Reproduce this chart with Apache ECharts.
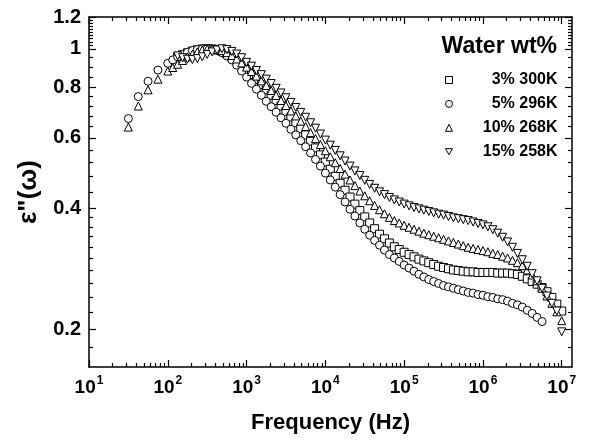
<!DOCTYPE html>
<html><head><meta charset="utf-8">
<script src="https://cdn.jsdelivr.net/npm/echarts@6/dist/echarts.min.js"></script>
<style>html,body{margin:0;padding:0;background:#fff}#c{width:592px;height:441px}</style>
</head><body><div id="c"></div>
<script>
// ---- data ----
const freqLow = [31.6, 42.2, 56.2, 75.0];
const freq = [
  100, 115.5, 133.4, 154.0, 177.8, 205.4, 237.1, 273.8, 316.2, 365.2, 421.7, 487.0, 562.3, 649.4, 749.9, 866.0,
  1000, 1155, 1334, 1540, 1778, 2054, 2371, 2738, 3162, 3652, 4217, 4870, 5623, 6494, 7499, 8660,
  1e4, 11550, 13340, 15400, 17780, 20540, 23710, 27380, 31620, 36520, 42170, 48700, 56230, 64940, 74990, 86600,
  1e5, 115500, 133400, 154000, 177800, 205400, 237100, 273800, 316200, 365200, 421700, 487000, 562300, 649400, 749900, 866000,
  1e6, 1155000, 1334000, 1540000, 1778000, 2054000, 2371000, 2738000, 3162000, 3652000, 4217000, 4870000, 5623000, 6494000, 7499000, 8660000,
  1e7
];
const seriesNames = ['3% 300K', '5% 296K', '10% 268K', '15% 258K'];
// 3% 300K : starts at freq[2]
const eps3 = [
  0.955, 0.966, 0.977, 0.987, 0.994, 0.999,
  1.0, 0.999, 0.994, 0.985, 0.972, 0.955, 0.935, 0.912,
  0.888, 0.862, 0.838, 0.814, 0.79, 0.766, 0.743, 0.72,
  0.698, 0.676, 0.654, 0.632, 0.61, 0.588, 0.566, 0.544,
  0.522, 0.501, 0.481, 0.462, 0.444, 0.427, 0.41, 0.395,
  0.381, 0.368, 0.356, 0.345, 0.336, 0.328, 0.321, 0.316,
  0.311, 0.307, 0.303, 0.299, 0.296, 0.293, 0.29, 0.287,
  0.285, 0.283, 0.281, 0.28, 0.279, 0.278, 0.278, 0.277,
  0.277, 0.277, 0.277, 0.276, 0.276, 0.276, 0.275, 0.274,
  0.271, 0.267, 0.263, 0.259, 0.254, 0.248, 0.24, 0.231,
  0.222
];
// 5% 296K : freqLow then freq[0..]
const eps5 = [
  0.67, 0.76, 0.83, 0.885,
  0.92, 0.938, 0.955, 0.968, 0.98, 0.99, 0.996, 0.999,
  1.0, 0.996, 0.99, 0.978, 0.96, 0.938, 0.91, 0.88,
  0.85, 0.82, 0.793, 0.766, 0.74, 0.717, 0.695, 0.673,
  0.652, 0.63, 0.61, 0.59, 0.57, 0.55, 0.53, 0.51,
  0.49, 0.471, 0.452, 0.433, 0.415, 0.398, 0.383, 0.368,
  0.355, 0.343, 0.333, 0.324, 0.315, 0.307, 0.301, 0.295,
  0.289, 0.284, 0.279, 0.274, 0.27, 0.266, 0.263, 0.26,
  0.257, 0.255, 0.253, 0.251, 0.249, 0.247, 0.246, 0.244,
  0.243, 0.241, 0.24, 0.238, 0.237, 0.235, 0.232, 0.23,
  0.227, 0.223, 0.219, 0.214, 0.209
];
// 10% 268K : freqLow then freq[0..]
const eps10 = [
  0.638, 0.72, 0.79, 0.84,
  0.88, 0.898, 0.915, 0.935, 0.955, 0.97, 0.983, 0.993,
  0.999, 1.0, 0.998, 0.99, 0.978, 0.962, 0.943, 0.922,
  0.90, 0.878, 0.855, 0.832, 0.81, 0.787, 0.765, 0.743,
  0.722, 0.70, 0.68, 0.66, 0.64, 0.618, 0.597, 0.577,
  0.557, 0.538, 0.52, 0.503, 0.487, 0.471, 0.456, 0.442,
  0.43, 0.418, 0.407, 0.397, 0.388, 0.38, 0.373, 0.368,
  0.363, 0.359, 0.355, 0.351, 0.347, 0.344, 0.341, 0.338,
  0.335, 0.332, 0.329, 0.326, 0.323, 0.32, 0.318, 0.316,
  0.314, 0.312, 0.309, 0.307, 0.304, 0.301, 0.297, 0.293,
  0.288, 0.281, 0.273, 0.264, 0.253, 0.242, 0.232, 0.221,
  0.21
];
// 15% 258K : starts at freq[2]
const eps15 = [
  0.96, 0.95, 0.942, 0.94, 0.945, 0.955,
  0.968, 0.982, 0.993, 1.0, 0.995, 0.985, 0.97, 0.95,
  0.925, 0.905, 0.883, 0.862, 0.84, 0.819, 0.797, 0.776,
  0.755, 0.735, 0.714, 0.694, 0.675, 0.654, 0.634, 0.613,
  0.592, 0.575, 0.558, 0.541, 0.525, 0.51, 0.496, 0.483,
  0.47, 0.459, 0.449, 0.44, 0.433, 0.426, 0.42, 0.415,
  0.41, 0.406, 0.402, 0.399, 0.396, 0.393, 0.39, 0.387,
  0.385, 0.382, 0.379, 0.377, 0.375, 0.373, 0.37, 0.367,
  0.364, 0.36, 0.354, 0.347, 0.339, 0.33, 0.32, 0.309,
  0.298, 0.287, 0.275, 0.264, 0.253, 0.242, 0.232, 0.222,
  0.197
];
const xMajorTicks = [10, 100, 1e3, 1e4, 1e5, 1e6, 1e7];
const xMinorMult = [2, 3, 4, 5, 6, 7, 8, 9];
const yMajorTicks = [0.2, 0.4, 0.6, 0.8, 1.0, 1.2];
const yMinorTicks = [0.18, 0.22, 0.24, 0.26, 0.28, 0.30, 0.32, 0.34, 0.36, 0.38,
  0.44, 0.48, 0.52, 0.56, 0.64, 0.68, 0.72, 0.76, 0.85, 0.90, 0.95,
  1.02, 1.04, 1.06, 1.08, 1.10, 1.12, 1.14, 1.16, 1.18];

// ---- build ----
const freqAll = freqLow.concat(freq);
const d3 = eps3.map((v, i) => [freq[i + 2], v]);
const d5 = eps5.map((v, i) => [freqAll[i], v]);
const d10 = eps10.map((v, i) => [freqAll[i], v]);
const d15 = eps15.map((v, i) => [freq[i + 2], v]);
const xMinorTicks = [];
xMajorTicks.slice(0, -1).forEach(d => xMinorMult.forEach(m => xMinorTicks.push(d * m)));

const FONT = 'Liberation Sans, Arial, Helvetica, sans-serif';
const XMIN = 10, XMAX = 1.35e7, YMIN = 0.161, YMAX = 1.2;

function ax(kind, pos, ticks, len, showLine, extra) {
  return Object.assign({
    type: 'log', logBase: 10,
    min: kind === 'x' ? XMIN : YMIN, max: kind === 'x' ? XMAX : YMAX, position: pos,
    axisLine: { show: showLine, onZero: false, lineStyle: { color: '#000', width: 1.5 } },
    axisTick: { show: true, inside: true, length: len, customValues: ticks, lineStyle: { color: '#000', width: 1.2 } },
    axisLabel: { show: false, customValues: ticks },
    splitLine: { show: false }, minorTick: { show: false }, minorSplitLine: { show: false }
  }, extra || {});
}

const xMain = ax('x', 'bottom', xMajorTicks, 7, true, {
  name: 'Frequency (Hz)', nameLocation: 'middle', nameGap: 45,
  nameTextStyle: { fontFamily: FONT, fontWeight: 'bold', fontSize: 22, color: '#000' }
});
xMain.axisLabel = {
  show: true, customValues: xMajorTicks, margin: 8,
  formatter: v => '{b|10}{s|' + Math.round(Math.log10(v)) + '}',
  rich: {
    b: { fontFamily: FONT, fontWeight: 'bold', fontSize: 19, color: '#000', lineHeight: 22, verticalAlign: 'bottom' },
    s: { fontFamily: FONT, fontWeight: 'bold', fontSize: 12, color: '#000', lineHeight: 22, verticalAlign: 'top', padding: [0, 0, 10, 1] }
  }
};
const yMain = ax('y', 'left', yMajorTicks, 7, true, {
  name: 'ε"(ω)', nameLocation: 'middle', nameGap: 42, nameRotate: 90,
  nameTextStyle: { fontFamily: FONT, fontWeight: 'bold', fontSize: 26, color: '#000' }
});
yMain.axisLabel = {
  show: true, customValues: yMajorTicks, margin: 8,
  formatter: v => String(Math.round(v * 10) / 10),
  fontFamily: FONT, fontWeight: 'bold', fontSize: 20, color: '#000'
};

const TRI_DOWN = 'path://M0,0L10,0L5,8.66Z';
function sym(name, symbol, data) {
  return {
    name: name, type: 'scatter', data: data, symbol: symbol, symbolSize: 8,
    xAxisIndex: 0, yAxisIndex: 0,
    itemStyle: { color: '#fff', borderColor: '#000', borderWidth: 1, opacity: 1 },
    emphasis: { disabled: true }, animation: false
  };
}

const chart = echarts.init(document.getElementById('c'), null, { renderer: 'canvas' });
chart.setOption({
  animation: false,
  backgroundColor: '#fff',
  grid: { left: 89, right: 20, top: 17, bottom: 74, containLabel: false },
  title: {
    text: 'Water wt%', right: 35, top: 35, padding: 0,
    textStyle: { fontFamily: FONT, fontWeight: 'bold', fontSize: 23, color: '#000' }
  },
  legend: {
    orient: 'vertical', left: 445, top: 72, padding: 0, itemWidth: 7, itemHeight: 7, itemGap: 7.9,
    selectedMode: false,
    itemStyle: { color: '#fff', borderColor: '#000', borderWidth: 1 },
    formatter: n => '{a|' + n + '}',
    textStyle: {
      rich: { a: { width: 100, align: 'right', fontFamily: FONT, fontWeight: 'bold', fontSize: 16, color: '#000', lineHeight: 20 } }
    },
    data: seriesNames
  },
  xAxis: [
    xMain,
    ax('x', 'bottom', xMinorTicks, 4, false),
    ax('x', 'top', xMajorTicks, 7, true),
    ax('x', 'top', xMinorTicks, 4, false)
  ],
  yAxis: [
    yMain,
    ax('y', 'left', yMinorTicks, 4, false),
    ax('y', 'right', yMajorTicks, 7, true),
    ax('y', 'right', yMinorTicks, 4, false)
  ],
  series: [
    sym(seriesNames[0], 'rect', d3),
    sym(seriesNames[1], 'circle', d5),
    sym(seriesNames[2], 'triangle', d10),
    sym(seriesNames[3], TRI_DOWN, d15)
  ]
});
</script></body></html>
